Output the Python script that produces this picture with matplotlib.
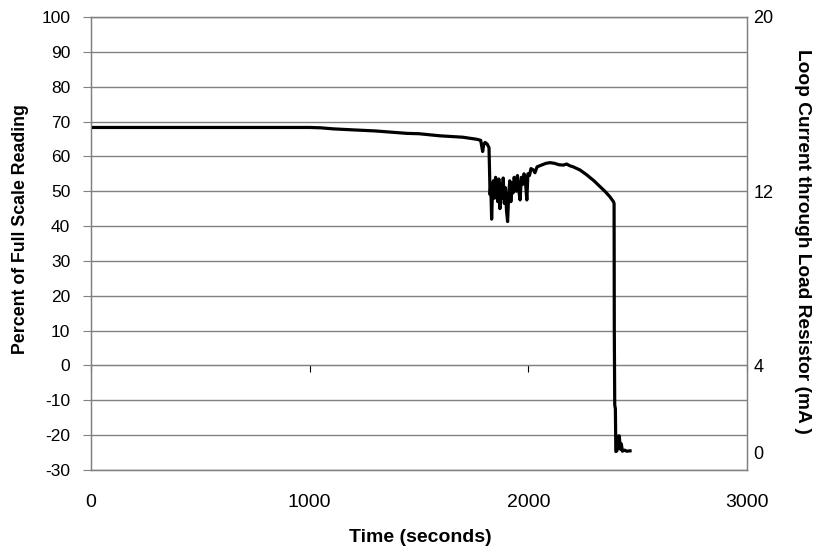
import numpy as np
import matplotlib.pyplot as plt

plt.rcParams['font.family'] = ['Liberation Sans', 'DejaVu Sans']
plt.rcParams['axes.unicode_minus'] = False

# 读取自图中的数据（时间 s，满量程百分比）
time_s = [0, 200, 400, 600, 800, 1000, 1050, 1107, 1200, 1300, 1445, 1500,
          1596, 1700, 1765, 1782, 1791, 1796, 1802, 1812, 1820, 1825, 1828,
          1832, 1836, 1840, 1845, 1850, 1855, 1860, 1865, 1870, 1875, 1880,
          1885, 1890, 1895, 1900, 1905, 1910, 1915, 1920, 1925, 1930, 1935,
          1939, 1945, 1950, 1955, 1962, 1968, 1975, 1980, 1985, 1990, 1993,
          1998, 2005, 2012, 2023, 2030, 2040, 2060, 2080, 2099, 2120, 2140,
          2160, 2175, 2190, 2205, 2236, 2267, 2300, 2328, 2350, 2373, 2389,
          2392, 2393, 2395, 2398, 2400, 2405, 2410, 2413, 2416, 2420, 2425,
          2430, 2440, 2450, 2465]
percent = [68.3, 68.3, 68.3, 68.3, 68.3, 68.3, 68.2, 67.9, 67.6, 67.3, 66.6,
           66.5, 65.9, 65.5, 64.9, 64.6, 61.4, 63.5, 64.0, 63.5, 62.5, 49.0,
           52.0, 42.0, 50.0, 53.0, 48.0, 54.0, 50.5, 47.0, 53.5, 45.0, 52.0,
           48.0, 53.8, 46.5, 51.0, 44.5, 41.3, 49.0, 53.0, 47.0, 52.5, 49.5,
           54.0, 52.4, 50.0, 54.5, 51.0, 47.5, 54.0, 52.0, 55.0, 54.2, 50.0,
           47.5, 55.0, 54.5, 56.5, 56.1, 55.3, 57.0, 57.5, 58.0, 58.2, 58.0,
           57.6, 57.5, 57.8, 57.3, 57.0, 56.1, 54.7, 53.0, 51.3, 50.0, 48.4,
           47.0, 46.5, 10.0, -11.3, -12.5, -24.7, -24.5, -22.0, -20.2, -20.2,
           -24.0, -22.5, -24.6, -24.3, -24.6, -24.5]

xticks = [0, 1000, 2000, 3000]
yticks = list(range(-30, 101, 10))
ma_ticks = [0, 4, 12, 20]

fig = plt.figure(figsize=(8.15, 5.48), dpi=100)
ax = fig.add_axes([0.1117, 0.1423, 0.8049, 0.8267])
grey = '#808080'

ax.set_xlim(0, 3000)
ax.set_ylim(-30, 100)
ax.set_yticks(yticks)
ax.set_xticks(xticks)
for y in yticks:
    ax.axhline(y, color=grey, lw=1.0, zorder=1)
for s in ax.spines.values():
    s.set_color(grey)
    s.set_linewidth(1.0)

ax.plot(time_s, percent, color='black', lw=2.3, zorder=3)

ax.tick_params(axis='y', direction='out', length=6, color=grey,
               labelsize=12.5, pad=9)
ax.tick_params(axis='x', length=0, labelsize=14, pad=17)

# 横轴在 0 处，刻度线向下
sec = ax.secondary_xaxis(30 / 130)
sec.set_xticks(xticks)
sec.xaxis.set_ticks_position('bottom')
sec.tick_params(axis='x', direction='out', length=5, color='black',
                labelbottom=False, labeltop=False)
sec.spines['bottom'].set_color(grey)
sec.spines['top'].set_visible(False)

fig.text(420 / 815, 1 - 537 / 548, 'Time (seconds)', fontsize=14,
         fontweight='bold', ha='center', va='center')
fig.text(21 / 815, 1 - 229 / 548, 'Percent of Full Scale Reading',
         fontsize=12.8, fontweight='bold', rotation=90, ha='center',
         va='center')

# 右轴：4-20 mA 回路电流
ax2 = ax.twinx()
ax2.set_ylim(4 + 0.16 * -30, 4 + 0.16 * 100)
ax2.set_yticks(ma_ticks)
ax2.tick_params(axis='y', length=0, labelsize=13, pad=4.5)
for s in ax2.spines.values():
    s.set_color(grey)
fig.text(803 / 815, 1 - 241 / 548, 'Loop Current through Load Resistor (mA )',
         fontsize=13.8, fontweight='bold', rotation=270, ha='center',
         va='center')

fig.savefig('out.png', dpi=100)
